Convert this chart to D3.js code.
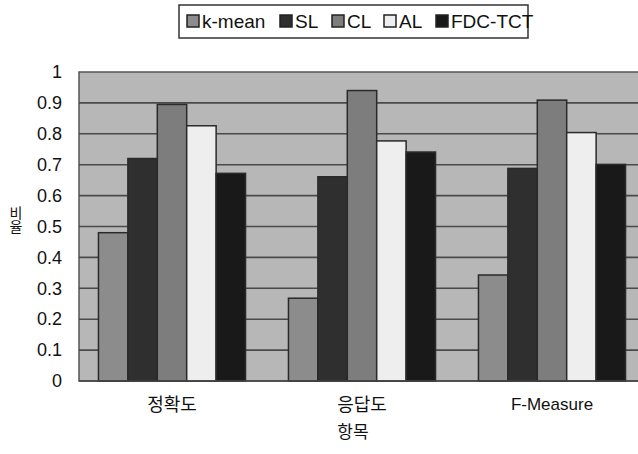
<!DOCTYPE html>
<html>
<head>
  <meta charset="utf-8">
  <script src="https://d3js.org/d3.v7.min.js"></script>
  <style>
    body { margin: 0; background: #fff; }
    text { font-family: "Liberation Sans", Arial, "Noto Sans CJK KR", sans-serif; fill: #111; }
    .kr { font-family: "Noto Sans CJK KR", sans-serif; }
  </style>
</head>
<body>
  <div id="chart"></div>
  <script>

    /* DATA */
    let categories = ["정확도", "응답도", "F-Measure"];
    let seriesNames = ["k-mean", "SL", "CL", "AL", "FDC-TCT"];
    let kMean = [0.48, 0.268, 0.343];
    let sl    = [0.72, 0.661, 0.688];
    let cl    = [0.895, 0.94, 0.909];
    let al    = [0.826, 0.777, 0.804];
    let fdc   = [0.672, 0.741, 0.701];
    let yTicks = [0, 0.1, 0.2, 0.3, 0.4, 0.5, 0.6, 0.7, 0.8, 0.9, 1];

    let seriesValues = [kMean, sl, cl, al, fdc];
    let colors = ["#8c8c8c", "#2f2f2f", "#7d7d7d", "#eeeeee", "#191919"];

    let width = 638, height = 454;
    let margin = {top: 72, left: 79, right: 0, bottom: 73};

    let svg = d3.select("#chart")
      .append("svg")
      .attr("width", width)
      .attr("height", height);

    /* SCALES */
    let x0 = d3.scaleBand()
      .domain(categories)
      .range([77, 647])
      .paddingInner(0.226)
      .paddingOuter(0.113);

    let x1 = d3.scaleBand()
      .domain(seriesNames)
      .range([0, x0.bandwidth()]);

    let y = d3.scaleLinear()
      .domain([0, 1])
      .range([height - margin.bottom, margin.top]);

    /* PLOT BACKGROUND */
    svg.append("rect")
      .attr("x", margin.left)
      .attr("y", margin.top)
      .attr("width", width - margin.left + 2)
      .attr("height", y(0) - margin.top)
      .attr("fill", "#b7b7b7")
      .attr("stroke", "#555")
      .attr("stroke-width", 1.5);

    /* GRIDLINES */
    svg.append("g")
      .selectAll("line")
      .data(yTicks.filter(d => d > 0 && d < 1))
      .enter()
      .append("line")
        .attr("x1", margin.left)
        .attr("x2", width)
        .attr("y1", d => y(d))
        .attr("y2", d => y(d))
        .attr("stroke", "#4a4a4a")
        .attr("stroke-width", 1.6);

    /* BARS */
    let rows = [];
    categories.forEach(function(c, i) {
      seriesNames.forEach(function(s, j) {
        rows.push({cat: c, series: s, value: seriesValues[j][i], color: colors[j]});
      });
    });

    svg.append("g")
      .selectAll("rect")
      .data(rows)
      .enter()
      .append("rect")
        .attr("x", d => x0(d.cat) + x1(d.series))
        .attr("y", d => y(d.value))
        .attr("width", x1.bandwidth())
        .attr("height", d => y(0) - y(d.value))
        .attr("fill", d => d.color)
        .attr("stroke", "#2a2a2a")
        .attr("stroke-width", 1.5);

    /* BOTTOM AXIS LINE */
    svg.append("line")
      .attr("x1", margin.left)
      .attr("x2", width)
      .attr("y1", y(0))
      .attr("y2", y(0))
      .attr("stroke", "#444")
      .attr("stroke-width", 1.5);

    /* Y AXIS */
    let yAxis = svg.append("g")
      .attr("transform", `translate(${margin.left},0)`)
      .call(d3.axisLeft(y).tickValues(yTicks).tickSize(0).tickPadding(17).tickFormat(d3.format("")));
    yAxis.select(".domain").remove();
    yAxis.selectAll("text")
      .attr("font-family", null)
      .style("font-size", "18px")
      .attr("fill", "#111");

    /* X AXIS */
    let xAxis = svg.append("g")
      .attr("transform", `translate(0,${y(0)})`)
      .call(d3.axisBottom(x0).tickSize(0).tickPadding(17));
    xAxis.select(".domain").remove();
    xAxis.selectAll("text")
      .attr("class", d => /[가-힣]/.test(d) ? "kr" : null)
      .style("font-size", d => /[가-힣]/.test(d) ? "18px" : "17px")
      .attr("fill", "#111");

    /* AXIS LABELS */
    svg.append("text")
      .attr("class", "kr")
      .attr("x", 353)
      .attr("y", 438)
      .attr("text-anchor", "middle")
      .style("font-size", "17px")
      .text("항목");

    svg.append("text")
      .attr("class", "kr")
      .attr("x", 16)
      .attr("y", 206)
      .style("writing-mode", "vertical-rl")
      .style("text-orientation", "upright")
      .style("font-size", "14px")
      .text("비율");

    /* LEGEND */
    svg.append("rect")
      .attr("x", 179)
      .attr("y", 5)
      .attr("width", 349)
      .attr("height", 33)
      .attr("fill", "#fff")
      .attr("stroke", "#333")
      .attr("stroke-width", 1.5);

    let legendX = [187, 280, 332, 384, 436];
    let legend = svg.append("g")
      .selectAll("g")
      .data(seriesNames)
      .enter()
      .append("g")
        .attr("transform", (d, i) => `translate(${legendX[i]},15)`);

    legend.append("rect")
      .attr("width", 12)
      .attr("height", 12)
      .attr("fill", (d, i) => colors[i])
      .attr("stroke", "#222")
      .attr("stroke-width", 1.5);

    legend.append("text")
      .attr("x", 15)
      .attr("y", 13)
      .style("font-size", "19px")
      .text(d => d);

  </script>
</body>
</html>
